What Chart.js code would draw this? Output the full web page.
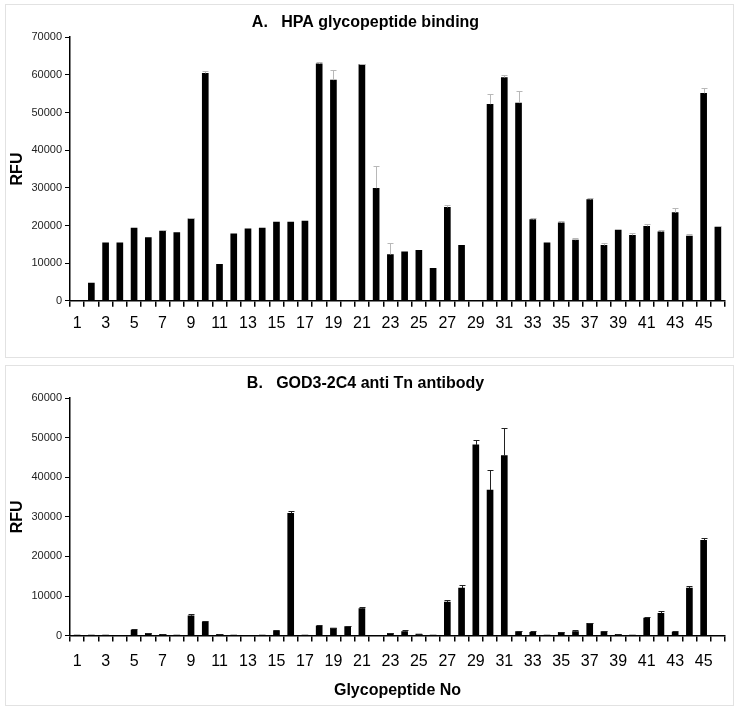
<!DOCTYPE html>
<html>
<head>
<meta charset="utf-8">
<script src="https://cdn.jsdelivr.net/npm/chart.js@4.4.1/dist/chart.umd.min.js"></script>
<style>
  body { margin: 0; background: #fff; }
  .panel { position: absolute; left: 5px; width: 727px; border: 1px solid #e2e2e2; background: #fff; }
  #boxA { top: 4px; height: 352px; }
  #boxB { top: 365px; height: 339px; }
</style>
</head>
<body>
<div class="panel" id="boxA"><canvas id="chartA"></canvas></div>
<div class="panel" id="boxB"><canvas id="chartB"></canvas></div>
<script>
// glycopeptide numbers 1..46
const peptides = ['1','2','3','4','5','6','7','8','9','10','11','12','13','14','15','16','17','18','19','20','21','22','23',
  '24','25','26','27','28','29','30','31','32','33','34','35','36','37','38','39','40','41','42','43','44','45','46'];

// A. HPA binding (RFU) and error (sd)
const hpaVals = [0,4700,15400,15400,19300,16800,18500,18100,21800,60400,9700,17800,19100,19300,20900,20900,21200,62900,58600,0,
  62700,29900,12300,13000,13400,8600,24800,14700,0,52200,59300,52500,21600,15400,20700,16100,26900,14700,18800,17400,
  19800,18300,23400,17200,55100,19600];
const hpaErr = [0,0,0,0,0,0,300,0,300,600,0,0,0,0,0,0,0,400,2600,0,
  300,5800,3100,0,0,0,600,0,0,2800,600,3200,300,0,400,700,500,600,0,700,
  700,500,1200,500,1300,300];

// B. GOD3-2C4 anti Tn antibody (RFU) and error (sd)
const godVals = [150,100,150,0,1400,600,300,100,5000,3500,300,150,0,100,1200,30900,100,2400,1900,2300,
  6800,0,600,1000,400,150,8500,12000,48200,36800,45500,1000,800,150,800,1000,3100,1000,300,150,
  4400,5600,900,12000,24100,0];
const godErr = [0,0,0,0,200,100,100,0,400,200,100,0,0,0,200,600,0,200,100,200,
  400,0,100,500,100,0,500,800,1200,5000,7000,100,300,0,100,500,200,100,200,0,
  200,600,300,500,600,0];

const yTicksA = [0,10000,20000,30000,40000,50000,60000,70000];
const yTicksB = [0,10000,20000,30000,40000,50000,60000];

const FONT = "Arial, 'Liberation Sans', sans-serif";
Chart.defaults.font.family = FONT;
Chart.defaults.color = '#000';

// error bar plugin, drawn through the chart's own scales
const errorBars = {
  id: 'errorBars',
  afterDatasetsDraw(chart, args, opts) {
    const ctx = chart.ctx;
    const meta = chart.getDatasetMeta(0);
    const ys = chart.scales.y;
    const vals = chart.data.datasets[0].data;
    ctx.save();
    ctx.strokeStyle = opts.color;
    ctx.lineWidth = 1;
    meta.data.forEach((bar, i) => {
      const e = opts.err[i];
      if (!e) return;
      const x = Math.round(bar.x) + 0.5;
      const y0 = ys.getPixelForValue(vals[i]);
      const y1 = Math.round(ys.getPixelForValue(vals[i] + e)) + 0.5;
      ctx.beginPath();
      ctx.moveTo(x, y0);
      ctx.lineTo(x, y1);
      ctx.moveTo(x - 3, y1);
      ctx.lineTo(x + 3, y1);
      ctx.stroke();
    });
    ctx.restore();
  }
};

function makeChart(id, title, vals, err, ticks, errColor, xTitle, pad, tickPad) {
  const cnv = document.getElementById(id);
  return new Chart(cnv, {
    type: 'bar',
    data: {
      labels: peptides,
      datasets: [{ data: vals, backgroundColor: '#000', barThickness: 6 }]
    },
    options: {
      responsive: true,
      maintainAspectRatio: false,
      animation: false,
      layout: { padding: pad },
      plugins: {
        legend: { display: false },
        tooltip: { enabled: false },
        title: { display: true, text: title, font: { size: 16, weight: 'bold' }, padding: { top: 8, bottom: 5 } },
        errorBars: { err: err, color: errColor }
      },
      scales: {
        x: {
          offset: true,
          grid: { offset: true, drawOnChartArea: false, color: '#000', tickLength: 6, tickColor: '#000', lineWidth: 1.5 },
          border: { color: '#000', width: 1.5 },
          ticks: {
            autoSkip: false, maxRotation: 0, font: { size: 16 }, padding: tickPad,
            callback: (v, i) => (i % 2 === 0 ? peptides[i] : '')
          },
          title: xTitle ? { display: true, text: xTitle, font: { size: 16, weight: 'bold' }, padding: { top: 0, bottom: 4 } } : { display: false }
        },
        y: {
          min: 0, max: ticks[ticks.length - 1],
          afterBuildTicks: (s) => { s.ticks = ticks.map(v => ({ value: v })); },
          afterFit: (s) => { s.width = 64; },
          grid: { drawOnChartArea: false, tickLength: 5, tickColor: '#000' },
          border: { color: '#000', width: 1.5 },
          ticks: { font: { size: 11 }, padding: 3, color: '#222', callback: (v) => String(v) },
          title: { display: true, text: 'RFU', font: { size: 16, weight: 'bold' }, padding: { top: 2, bottom: 0 } }
        }
      }
    },
    plugins: [errorBars]
  });
}

makeChart('chartA', 'A.   HPA glycopeptide binding', hpaVals, hpaErr, yTicksA, '#b8b8b8', null,
  { left: 0, right: 8, top: 0, bottom: 17 }, 7);
makeChart('chartB', 'B.   GOD3-2C4 anti Tn antibody', godVals, godErr, yTicksB, '#222', 'Glycopeptide No',
  { left: 0, right: 8, top: 0, bottom: 1 }, 10);
</script>
</body>
</html>
